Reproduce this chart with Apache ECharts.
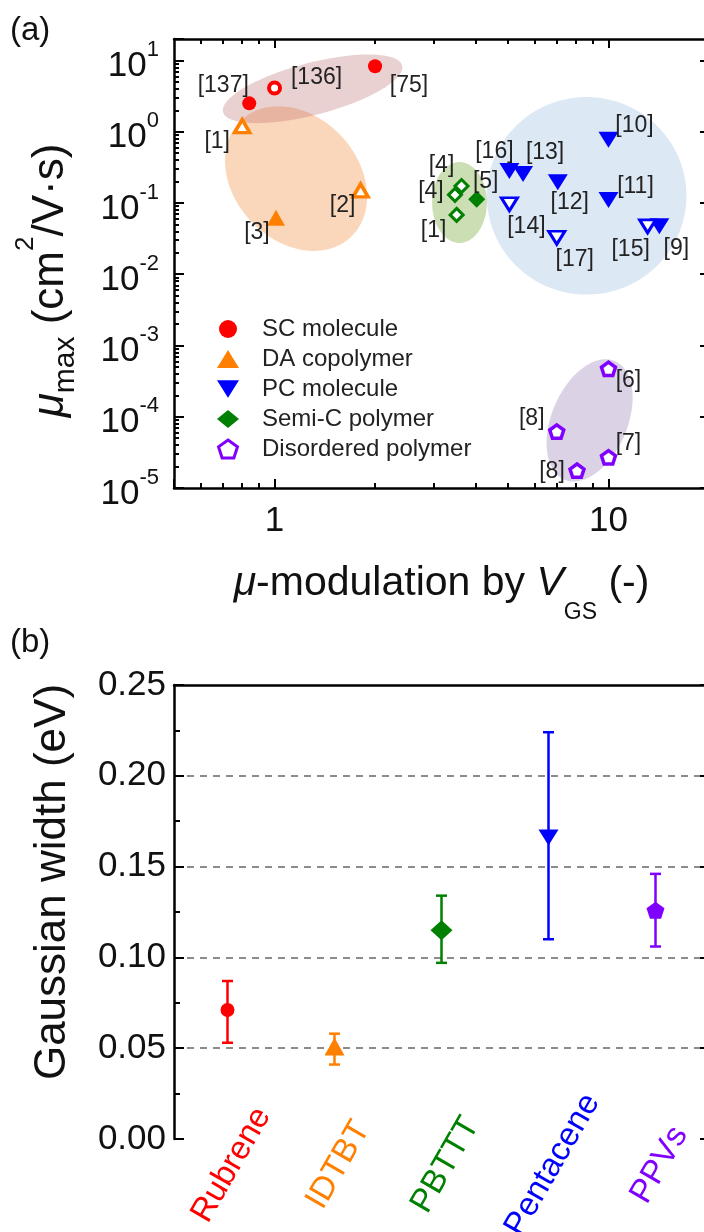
<!DOCTYPE html>
<html><head><meta charset="utf-8">
<script src="https://cdn.jsdelivr.net/npm/echarts@6/dist/echarts.min.js"></script>
<style>html,body{margin:0;padding:0;background:#fff}#c{width:704px;height:1232px}</style>
</head><body><div id="c"></div>
<script>
// ---------------- Panel (a) data ----------------
const classNames = ['SC molecule', 'DA copolymer', 'PC molecule', 'Semi-C polymer', 'Disordered polymer'];

const scRefs = ['[137]', '[136]', '[75]'];
const scX = [0.84, 1.0, 2.0];
const scY = [2.5, 4.1, 8.3];
const scOpen = [false, true, false];

const daRefs = ['[1]', '[2]', '[3]'];
const daX = [0.80, 1.81, 1.01];
const daY = [1.2, 0.15, 0.062];
const daOpen = [true, true, false];

const pcRefs = ['[10]', '[16]', '[13]', '[12]', '[11]', '[14]', '[17]', '[15]', '[9]'];
const pcX = [10.0, 5.05, 5.55, 7.05, 10.0, 5.05, 7.0, 13.1, 14.2];
const pcY = [0.77, 0.28, 0.255, 0.195, 0.11, 0.096, 0.0325, 0.047, 0.047];
const pcOpen = [false, false, false, false, false, true, true, true, false];

const scpRefs = ['[4]', '[4]', '[1]', '[5]'];
const scpX = [3.63, 3.47, 3.51, 4.03];
const scpY = [0.173, 0.130, 0.068, 0.113];
const scpOpen = [true, true, true, false];

const disRefs = ['[6]', '[8]', '[7]', '[8]'];
const disX = [10.0, 7.0, 10.0, 8.05];
const disY = [4.7e-4, 6.2e-5, 2.7e-5, 1.75e-5];
const disOpen = [true, true, true, true];

// label offsets (px) of the reference tags, kept apart from the values
const scLabelOffsets = [[-26, -18], [42, -10], [34, 19]];
const daLabelOffsets = [[-25, 16], [-18, 15], [-19, 15]];
const pcLabelOffsets = [[26, -14], [-15, -19], [22, -21], [12, 20], [27, -13], [17, 22], [18, 22], [-17, 23], [17, 22]];
const scpLabelOffsets = [[-20, -20], [-24, -3], [-23, 16], [9, -18]];
const disLabelOffsets = [[20, 12], [-25, -13], [20, -14], [-25, 1]];

// shaded group ellipses: centre (data), semi-axes in decades of the x axis, tilt (deg)
const ellipseCx = [8.6, 3.58, 8.78, 1.16, 1.30];
const ellipseCy = [0.126, 0.1015, 8.9e-5, 0.22, 4.0];
const ellipseA = [0.299, 0.082, 0.193, 0.24, 0.277];
const ellipseB = [0.296, 0.121, 0.1135, 0.186, 0.078];
const ellipseAngle = [0, 0, -67, 47, -14.6];

const xMajorTicks = [1, 10];
const xMinorTicks = [0.6, 0.7, 0.8, 0.9, 2, 3, 4, 5, 6, 7, 8, 9];
const yMajorTicks = [1e-5, 1e-4, 1e-3, 1e-2, 1e-1, 1, 10];
const yMinorTicks = [];
for (let e = -5; e <= 0; e++) for (let m = 2; m <= 9; m++) yMinorTicks.push(m * Math.pow(10, e));

// ---------------- Panel (b) data ----------------
const materials = ['Rubrene', 'IDTBT', 'PBTTT', 'Pentacene', 'PPVs'];
const gwMean = [0.071, 0.051, 0.115, 0.166, 0.126];
const gwLow = [0.053, 0.041, 0.097, 0.110, 0.106];
const gwHigh = [0.087, 0.058, 0.134, 0.224, 0.146];

// ---------------- styles ----------------
const FONT = "'Liberation Sans', Arial, Helvetica, sans-serif";
const TXT = '#111';
const classColors = ['#ff0000', '#ff8000', '#0000ff', '#008000', '#8000ff'];
const ellipseFills = ['rgba(100,150,210,0.22)', 'rgba(110,160,40,0.35)', 'rgba(110,80,150,0.25)', 'rgba(240,140,60,0.35)', 'rgba(180,90,90,0.28)'];
const PENTAGON = 'path://M0,-10L9.511,-3.09L5.878,8.09L-5.878,8.09L-9.511,-3.09Z';
const DOWN_TRIANGLE = 'path://M0,0L20,0L10,16Z';
const classSymbols = [
  {symbol: 'circle', rotate: 0, filled: 14, open: 11, bw: 4},
  {symbol: 'triangle', rotate: 0, filled: [18, 16], open: [15, 13], bw: 3.5},
  {symbol: 'triangle', rotate: 180, filled: [20, 16], open: [16, 13], bw: 3},
  {symbol: 'diamond', rotate: 0, filled: [17, 17], open: [13, 13], bw: 3},
  {symbol: PENTAGON, rotate: 0, filled: 16, open: 14, bw: 3.5}
];
const matColors = ['#ff0000', '#ff8000', '#008000', '#0000ff', '#8000ff'];
const matSymbols = [
  {symbol: 'circle', size: 14, rotate: 0},
  {symbol: 'triangle', size: [20, 18], rotate: 0},
  {symbol: 'diamond', size: [22, 20], rotate: 0},
  {symbol: 'triangle', size: [20, 16], rotate: 180},
  {symbol: PENTAGON, size: 18, rotate: 0}
];

const groups = [
  {refs: scRefs, x: scX, y: scY, open: scOpen, off: scLabelOffsets},
  {refs: daRefs, x: daX, y: daY, open: daOpen, off: daLabelOffsets},
  {refs: pcRefs, x: pcX, y: pcY, open: pcOpen, off: pcLabelOffsets},
  {refs: scpRefs, x: scpX, y: scpY, open: scpOpen, off: scpLabelOffsets},
  {refs: disRefs, x: disX, y: disY, open: disOpen, off: disLabelOffsets}
];

const L = Math.log10;
const axisLineStyle = {color: '#000', width: 2.5};
const tickStyle = {color: '#000', width: 2};
const frameLine = {show: true, onZero: false, lineStyle: axisLineStyle};
const noLine = {show: false, onZero: false};

// ---------------- series ----------------
const series = [];
series.push({
  type: 'custom', xAxisIndex: 0, yAxisIndex: 0, silent: true, z: 1,
  data: ellipseCx.map((cx, i) => [cx, ellipseCy[i], ellipseA[i], ellipseB[i], ellipseAngle[i]]),
  encode: {x: 0, y: 1},
  renderItem: function (params, api) {
    const cx = api.value(0), cy = api.value(1);
    const a = api.value(2), b = api.value(3), ang = api.value(4) * Math.PI / 180;
    const c = api.coord([cx, cy]);
    const k = api.coord([cx * 10, cy])[0] - c[0];
    const ra = a * k, rb = b * k;
    const pts = [];
    for (let i = 0; i < 90; i++) {
      const t = i / 90 * 2 * Math.PI;
      const u = ra * Math.cos(t), v = rb * Math.sin(t);
      pts.push([c[0] + u * Math.cos(ang) - v * Math.sin(ang), c[1] + u * Math.sin(ang) + v * Math.cos(ang)]);
    }
    return {type: 'polygon', shape: {points: pts}, style: {fill: ellipseFills[params.dataIndex]}};
  }
});

groups.forEach((g, gi) => {
  const sym = classSymbols[gi];
  [false, true].forEach(open => {
    const data = [];
    g.x.forEach((xv, i) => {
      if (g.open[i] !== open) return;
      data.push({name: g.refs[i], value: [xv, g.y[i]], label: {offset: g.off[i]}});
    });
    if (!data.length) return;
    series.push({
      type: 'scatter', name: classNames[gi], xAxisIndex: 0, yAxisIndex: 0, z: 3,
      symbol: sym.symbol, symbolRotate: sym.rotate, symbolKeepAspect: true,
      symbolSize: open ? sym.open : sym.filled,
      itemStyle: open ? {color: '#fff', borderColor: classColors[gi], borderWidth: sym.bw, opacity: 1}
                      : {color: classColors[gi], borderColor: classColors[gi], borderWidth: 0, opacity: 1},
      label: {show: true, position: 'inside', formatter: '{b}', color: '#222', fontSize: 23, fontFamily: FONT},
      data: data
    });
  });
});

// panel (b) error bars
series.push({
  type: 'custom', xAxisIndex: 4, yAxisIndex: 3, silent: true, z: 2,
  data: materials.map((m, i) => [i, gwLow[i], gwHigh[i]]),
  encode: {x: 0, y: [1, 2]},
  renderItem: function (params, api) {
    const i = api.value(0);
    const p1 = api.coord([i, api.value(1)]);
    const p2 = api.coord([i, api.value(2)]);
    const hw = 5.5;
    const st = {stroke: matColors[params.dataIndex], lineWidth: 2.5};
    return {type: 'group', children: [
      {type: 'line', shape: {x1: p1[0], y1: p1[1], x2: p2[0], y2: p2[1]}, style: st},
      {type: 'line', shape: {x1: p1[0] - hw, y1: p1[1], x2: p1[0] + hw, y2: p1[1]}, style: st},
      {type: 'line', shape: {x1: p2[0] - hw, y1: p2[1], x2: p2[0] + hw, y2: p2[1]}, style: st}
    ]};
  }
});
series.push({
  type: 'scatter', xAxisIndex: 4, yAxisIndex: 3, z: 3, symbolKeepAspect: true,
  data: materials.map((m, i) => ({
    value: [i, gwMean[i]],
    symbol: matSymbols[i].symbol, symbolSize: matSymbols[i].size, symbolRotate: matSymbols[i].rotate,
    itemStyle: {color: matColors[i], opacity: 1}
  }))
});

// ---------------- axes ----------------
function isPow10(v) { const e = L(v); return Math.abs(e - Math.round(e)) < 1e-6; }

const xAxis = [
  { // 0 panel a bottom (data axis)
    gridIndex: 0, type: 'log', logBase: 10, min: 0.5, max: 20, position: 'bottom',
    axisLine: frameLine,
    axisTick: {show: true, inside: true, length: 9, lineStyle: tickStyle},
    minorTick: {show: false}, splitLine: {show: false},
    axisLabel: {show: true, fontSize: 35, color: TXT, margin: 16,
      formatter: v => isPow10(v) ? String(Math.round(v)) : ''},
    name: '{mu|\u03bc}{n|-modulation by }{v|V}{sub|GS}{n| (-)}',
    nameLocation: 'middle', nameGap: 75, nameMoveOverlap: false,
    nameTextStyle: {rich: {
      mu: {fontSize: 41, lineHeight: 41, fontStyle: 'italic', verticalAlign: 'top', color: TXT},
      n: {fontSize: 41, lineHeight: 41, verticalAlign: 'top', color: TXT},
      v: {fontSize: 41, lineHeight: 41, fontStyle: 'italic', verticalAlign: 'top', color: TXT},
      sub: {fontSize: 23, lineHeight: 23, padding: [38, 0, 0, 0], verticalAlign: 'top', color: TXT}
    }}
  },
  { // 1 bottom minor ticks
    gridIndex: 0, type: 'value', min: L(0.5), max: L(20), position: 'bottom',
    axisLine: noLine, axisLabel: {show: false}, splitLine: {show: false},
    axisTick: {show: true, inside: true, length: 5, lineStyle: tickStyle, customValues: xMinorTicks.map(L)}
  },
  { // 2 top major
    gridIndex: 0, type: 'value', min: L(0.5), max: L(20), position: 'top',
    axisLine: frameLine, axisLabel: {show: false}, splitLine: {show: false},
    axisTick: {show: true, inside: true, length: 9, lineStyle: tickStyle, customValues: xMajorTicks.map(L)}
  },
  { // 3 top minor
    gridIndex: 0, type: 'value', min: L(0.5), max: L(20), position: 'top',
    axisLine: noLine, axisLabel: {show: false}, splitLine: {show: false},
    axisTick: {show: true, inside: true, length: 5, lineStyle: tickStyle, customValues: xMinorTicks.map(L)}
  },
  { // 4 panel b data axis
    gridIndex: 1, type: 'category', data: materials, boundaryGap: true, position: 'bottom',
    axisLine: noLine, axisTick: {show: false}, axisLabel: {show: false}, splitLine: {show: false}
  },
  { // 5 panel b top frame
    gridIndex: 1, type: 'category', data: materials, boundaryGap: true, position: 'top',
    axisLine: frameLine, axisTick: {show: false}, axisLabel: {show: false}, splitLine: {show: false}
  },
  { // 6 panel b category labels (centred on their ticks)
    gridIndex: 2, type: 'category', data: materials, boundaryGap: true, position: 'bottom',
    axisLine: noLine, axisTick: {show: false}, splitLine: {show: false},
    axisLabel: {show: true, interval: 0, rotate: 60, fontSize: 33, margin: 26,
      align: 'center', verticalAlign: 'middle',
      color: (v, i) => matColors[i]}
  }
];

const yAxis = [
  { // 0 panel a left (data axis)
    gridIndex: 0, type: 'log', logBase: 10, min: 1e-5, max: 20, position: 'left',
    axisLine: frameLine,
    axisTick: {show: true, inside: true, length: 10, lineStyle: tickStyle},
    minorTick: {show: false}, splitLine: {show: false},
    axisLabel: {show: true, margin: 15, padding: [0, 0, 8, 0],
      formatter: v => isPow10(v) ? '{b|10}{s|' + Math.round(L(v)) + '}' : '',
      rich: {
        b: {fontSize: 35, lineHeight: 35, padding: [10, 0, 0, 0], verticalAlign: 'top', color: TXT},
        s: {fontSize: 22, lineHeight: 22, verticalAlign: 'top', color: TXT}
      }},
    name: '{mu|\u03bc}{sub|max}{n| (cm}{sup|2}{n|/V\u00b7s)}',
    nameLocation: 'middle', nameGap: 117, nameMoveOverlap: false,
    nameTextStyle: {padding: [0, 34, 0, 0], rich: {
      mu: {fontSize: 44, lineHeight: 44, fontStyle: 'italic', padding: [16, 0, 0, 0], verticalAlign: 'top', color: TXT},
      n: {fontSize: 44, lineHeight: 44, padding: [16, 0, 0, 0], verticalAlign: 'top', color: TXT},
      sup: {fontSize: 26, lineHeight: 26, verticalAlign: 'top', color: TXT},
      sub: {fontSize: 30, lineHeight: 30, padding: [38, 0, 0, 0], verticalAlign: 'top', color: TXT}
    }}
  },
  { // 1 left minor ticks
    gridIndex: 0, type: 'value', min: -5, max: L(20), position: 'left',
    axisLine: noLine, axisLabel: {show: false}, splitLine: {show: false},
    axisTick: {show: true, inside: true, length: 5, lineStyle: tickStyle, customValues: yMinorTicks.map(L)}
  },
  { // 2 right frame + major ticks
    gridIndex: 0, type: 'value', min: -5, max: L(20), position: 'right',
    axisLine: frameLine, axisLabel: {show: false}, splitLine: {show: false},
    axisTick: {show: true, inside: true, length: 9, lineStyle: tickStyle, customValues: yMajorTicks.map(L)}
  },
  { // 3 panel b left
    gridIndex: 1, type: 'value', min: 0, max: 0.25, interval: 0.05, position: 'left',
    axisLine: frameLine,
    axisTick: {show: true, inside: true, length: 10, lineStyle: tickStyle},
    minorTick: {show: true, splitNumber: 2, length: 6, lineStyle: tickStyle},
    axisLabel: {show: true, fontSize: 35, color: TXT, margin: 8, formatter: v => v.toFixed(2)},
    splitLine: {show: true, showMinLine: false, showMaxLine: false,
      lineStyle: {color: '#8c8c8c', width: 2, type: [7, 6]}},
    name: 'Gaussian width (eV)', nameLocation: 'middle', nameGap: 99, nameMoveOverlap: false,
    nameTextStyle: {fontSize: 44, lineHeight: 44, color: TXT, padding: [0, 0, 0, 60]}
  },
  { // 4 panel b right
    gridIndex: 1, type: 'value', min: 0, max: 0.25, interval: 0.05, position: 'right',
    axisLine: frameLine, axisLabel: {show: false}, splitLine: {show: false},
    axisTick: {show: true, inside: true, length: 9, lineStyle: tickStyle}
  },
  { // 5 hidden axis for label grid
    gridIndex: 2, type: 'value', min: 0, max: 0.25, show: false
  }
];

const option = {
  animation: false,
  backgroundColor: '#fff',
  textStyle: {fontFamily: FONT, color: TXT},
  title: [
    {text: '(a)', left: 10, top: 14, padding: 0, textStyle: {fontSize: 33, fontWeight: 'normal', color: TXT, fontFamily: FONT}},
    {text: '(b)', left: 10, top: 626, padding: 0, textStyle: {fontSize: 33, fontWeight: 'normal', color: TXT, fontFamily: FONT}}
  ],
  grid: [
    {left: 174, right: -5, top: 39, height: 449, outerBoundsMode: 'none', containLabel: false},
    {left: 174, right: -5, top: 685, height: 454, outerBoundsMode: 'none', containLabel: false},
    {left: 178, right: -9, top: 685, height: 454, outerBoundsMode: 'none', containLabel: false}
  ],
  legend: {
    orient: 'vertical', left: 217, top: 317, padding: 0,
    itemWidth: 22, itemHeight: 18, itemGap: 6,
    textStyle: {fontSize: 24, color: '#222', fontFamily: FONT, padding: [0, 0, 0, 18]},
    selectedMode: false,
    data: classNames.map((n, i) => {
      const item = {name: n};
      if (i === 2) item.icon = DOWN_TRIANGLE;
      if (i === 4) item.itemStyle = {borderWidth: 3};
      return item;
    })
  },
  xAxis: xAxis,
  yAxis: yAxis,
  series: series
};

const chart = echarts.init(document.getElementById('c'), null, {renderer: 'canvas', width: 704, height: 1232});
chart.setOption(option);
</script>
</body></html>
